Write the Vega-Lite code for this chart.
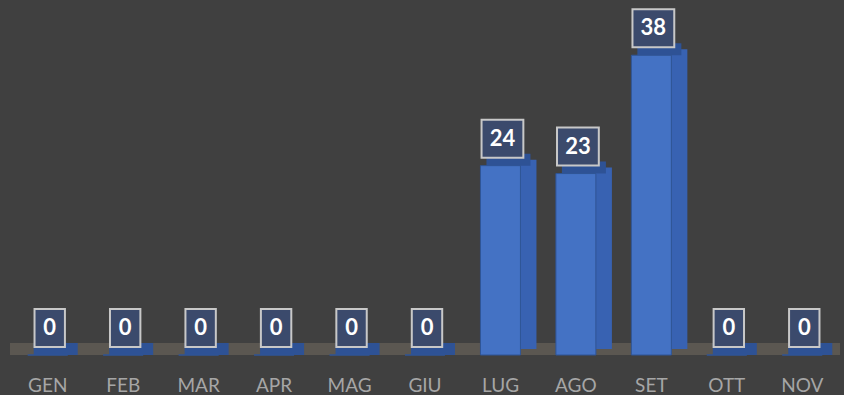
{
  "$schema": "https://vega.github.io/schema/vega-lite/v6.json",
  "width": 830,
  "height": 355,
  "padding": {"left": 4, "top": 0, "right": 0, "bottom": 0},
  "autosize": {"type": "pad"},
  "background": "#404040",
  "config": {"view": {"stroke": null}},
  "data": {
    "values": [
      {"mese": "GEN", "valore": 0},
      {"mese": "FEB", "valore": 0},
      {"mese": "MAR", "valore": 0},
      {"mese": "APR", "valore": 0},
      {"mese": "MAG", "valore": 0},
      {"mese": "GIU", "valore": 0},
      {"mese": "LUG", "valore": 24},
      {"mese": "AGO", "valore": 23},
      {"mese": "SET", "valore": 38},
      {"mese": "OTT", "valore": 0},
      {"mese": "NOV", "valore": 0}
    ]
  },
  "layer": [
    {
      "data": {"values": [{}]},
      "mark": {"type": "rule", "color": "#5b5751", "strokeWidth": 12, "yOffset": -6, "strokeCap": "butt"},
      "encoding": {
        "y": {"datum": 0, "type": "quantitative", "scale": {"domain": [0, 45]}, "axis": null}
      }
    },
    {
      "mark": {"type": "bar", "width": 16, "xOffset": 28, "yOffset": -6, "y2Offset": -6, "color": "#3862b2"},
      "encoding": {
        "x": {"field": "mese", "type": "nominal", "sort": null, "scale": {"paddingInner": 0.47, "paddingOuter": 0.235},
          "axis": {"title": null, "labelAngle": 0, "ticks": false, "domain": false, "labelPadding": 21, "labelFont": "Lato", "labelFontSize": 19, "labelColor": "#a6a6a6"}},
        "y": {"field": "valore", "type": "quantitative", "scale": {"domain": [0, 45]}, "axis": null}
      }
    },
    {
      "mark": {"type": "tick", "orient": "horizontal", "size": 44, "thickness": 12, "xOffset": 8, "yOffset": -6, "color": "#2e5295", "opacity": 1},
      "encoding": {
        "x": {"field": "mese", "type": "nominal", "sort": null},
        "y": {"field": "valore", "type": "quantitative"}
      }
    },
    {
      "mark": {"type": "bar", "color": "#4472c4", "stroke": "#2f5597", "strokeWidth": 1},
      "encoding": {
        "x": {"field": "mese", "type": "nominal", "sort": null},
        "y": {"field": "valore", "type": "quantitative"}
      }
    },
    {
      "mark": {"type": "point", "size": 1444, "fill": "#3b4a6c", "stroke": "#c8c8c8", "strokeWidth": 2, "opacity": 1, "fillOpacity": 1, "xOffset": 2, "yOffset": -27},
      "encoding": {
        "x": {"field": "mese", "type": "nominal", "sort": null},
        "y": {"field": "valore", "type": "quantitative"},
        "shape": {"condition": {"test": "datum.valore >= 10", "value": "M-1.1,-1H1.1V1H-1.1Z"}, "value": "M-0.8,-1H0.8V1H-0.8Z"}
      }
    },
    {
      "mark": {"type": "text", "font": "Lato", "fontWeight": "bold", "fontSize": 22, "color": "#ffffff", "xOffset": 2, "yOffset": -27, "baseline": "middle", "align": "center"},
      "encoding": {
        "x": {"field": "mese", "type": "nominal", "sort": null},
        "y": {"field": "valore", "type": "quantitative"},
        "text": {"field": "valore", "type": "quantitative"}
      }
    }
  ]
}
